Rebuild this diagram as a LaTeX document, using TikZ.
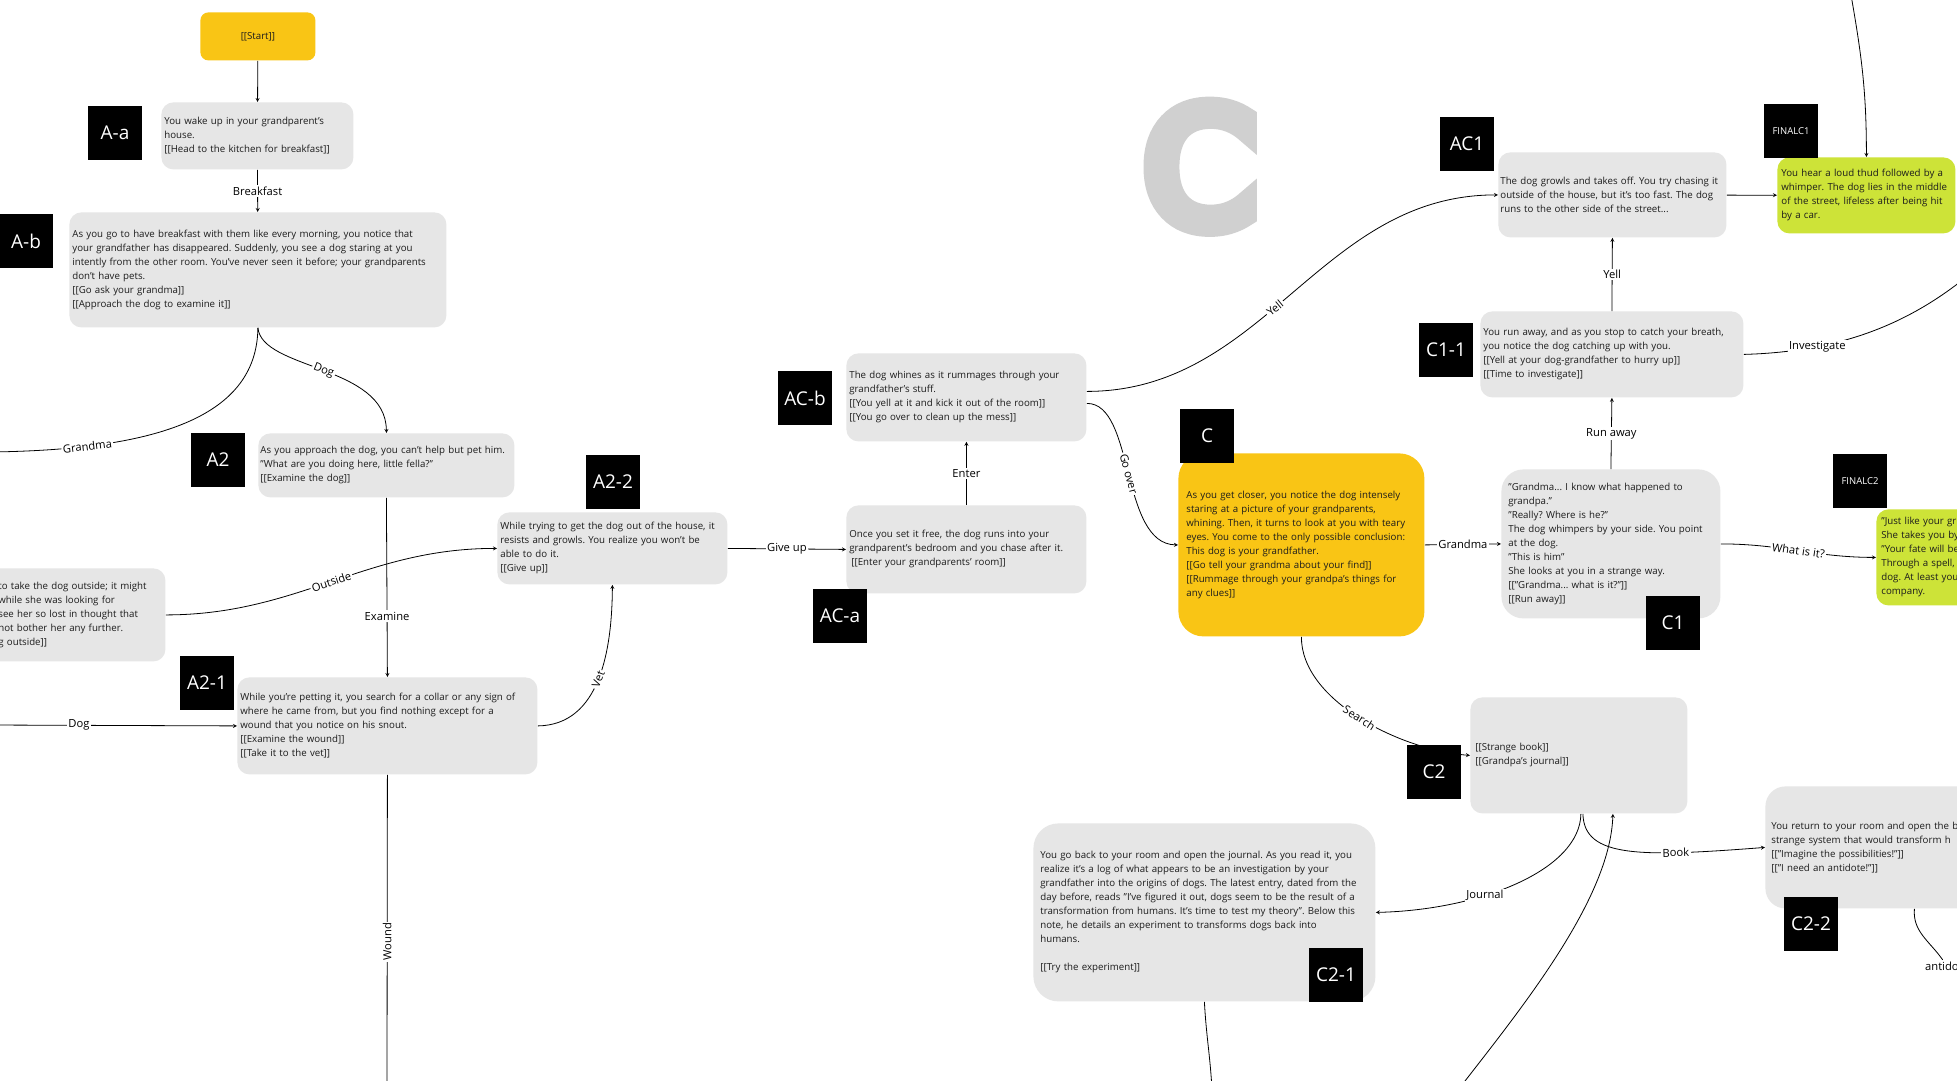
\documentclass[tikz,border=0pt]{standalone}
\usepackage{fontspec}
\setmainfont{Open Sans}
\newfontfamily\bigfont{DejaVu Sans}[FakeBold=12]

\definecolor{boxgray}{RGB}{230,230,230}
\definecolor{startyellow}{RGB}{249,197,21}
\definecolor{endgreen}{RGB}{205,227,56}
\definecolor{bigcgray}{RGB}{208,208,208}
\definecolor{passtext}{RGB}{28,28,28}

\newcommand\lnk[1]{[[#1]]}

\begin{document}
\begin{tikzpicture}[x=1pt, y=1pt, >=stealth, line width=0.8pt,
  passage/.style={anchor=north west, rectangle, rounded corners=12, fill=boxgray,
    text=passtext, align=left, inner xsep=3, inner ysep=0,
    font=\fontsize{9.7}{14}\selectfont\frenchspacing},
  tag/.style={fill=black, text=white, minimum size=54, inner sep=0,
    font=\fontsize{19}{19}\selectfont},
  small tag/.style={tag, font=\fontsize{9.5}{10}\selectfont},
  lbl/.style={fill=white, inner sep=1.5, text=black, font=\fontsize{11.2}{13}\selectfont}]

\path [use as bounding box, fill=white] (0,0) rectangle (1957,-1080);
\clip (0,0) rectangle (1957,-1080);

\node [passage, fill=startyellow, rounded corners=8, align=center, inner xsep=0,
  minimum width=115, minimum height=48] (start) at (200,-12) {\lnk{Start}};

\node [passage, minimum width=192, minimum height=67, text width=186] (aa) at (161,-102)
  {You wake up in your grandparent's\\house.\\\lnk{Head to the kitchen for breakfast}};

\node [passage, minimum width=377, minimum height=115, text width=371] (ab) at (69,-212)
  {As you go to have breakfast with them like every morning, you notice that\\
   your grandfather has disappeared. Suddenly, you see a dog staring at you\\
   intently from the other room. You've never seen it before; your grandparents\\
   don't have pets.\\\lnk{Go ask your grandma}\\\lnk{Approach the dog to examine it}};

\node [passage, inner xsep=2, minimum width=256, minimum height=64, text width=252] (a2) at (258,-433)
  {As you approach the dog, you can't help but pet him.\\
   "What are you doing here, little fella?"\\\lnk{Examine the dog}};

\node [passage, inner xsep=13, minimum height=93, text width=154] (left) at (-15,-568)
  {to take the dog outside; it might\\while she was looking for\\
   see her so lost in thought that\\not bother her any further.\\g outside]]};

\node [passage, minimum width=300, minimum height=97, text width=294] (a21) at (237,-677)
  {While you're petting it, you search for a collar or any sign of\\
   where he came from,  but you find nothing except for a\\
   wound that you notice on his snout.\\\lnk{Examine the wound}\\\lnk{Take it to the vet}};

\node [passage, minimum width=230, minimum height=72, text width=224] (a22) at (497,-512)
  {While trying to get the dog out of the house, it\\
   resists and growls. You realize you won't be\\able to do it.\\\lnk{Give up}};

\node [passage, minimum width=240, minimum height=88, text width=234] (aca) at (846,-505)
  {Once you set it free, the dog runs into your\\
   grandparent's bedroom and you chase after it.\\
   \hspace{2pt}\lnk{Enter your grandparents' room}};

\node [passage, minimum width=240, minimum height=88, text width=234] (acb) at (846,-353)
  {The dog whines as it rummages through your\\grandfather's stuff.\\
   \lnk{You yell at it and kick it out of the room}\\\lnk{You go over to clean up the mess}};

\node [passage, fill=startyellow, rounded corners=25, inner xsep=8, minimum width=246,
  minimum height=183, text width=230] (c) at (1178,-453)
  {As you get closer, you notice the dog intensely\\
   staring  at a picture of your grandparents,\\
   whining. Then, it turns to look at you with teary\\
   eyes. You come to the only possible conclusion:\\
   This dog is your grandfather.\\\lnk{Go tell your grandma about your find}\\
   \lnk{Rummage through your grandpa's things for\\any clues}};

\node [passage, rounded corners=22, inner xsep=7, minimum width=219, minimum height=149,
  text width=205] (c1) at (1501,-469)
  {"Grandma... I know what happened to\\grandpa."\\"Really? Where is he?"\\
   The dog whimpers by your side. You point\\at the dog.\\"This is him"\\
   She looks at you in a strange way.\\\lnk{"Grandma... what is it?"}\\\lnk{Run away}};

\node [passage, minimum width=263, minimum height=86, text width=257] (c11) at (1480,-311)
  {You run away, and as you stop to catch your breath,\\
   you notice the dog catching up with you.\\
   \lnk{Yell at your dog-grandfather to hurry up}\\\lnk{Time to investigate}};

\node [passage, inner xsep=2, minimum width=228, minimum height=85, text width=224] (ac1) at (1498,-152)
  {The dog growls and takes off. You try chasing it\\
   outside of the house, but it's too fast. The dog\\
   runs to the other side of the street...};

\node [passage, fill=endgreen, inner xsep=4, minimum width=178, minimum height=76,
  text width=170] (finalc1) at (1777,-157)
  {You hear a loud thud followed by a\\whimper. The dog lies in the middle\\
   of the street, lifeless after being hit\\by a car.};

\node [passage, fill=endgreen, inner xsep=5, minimum width=130, minimum height=96,
  text width=120] (finalc2) at (1876,-509)
  {"Just like your gr\\She takes you by\\"Your fate will be\\Through a spell,\\
   dog. At least you\\company.};

\node [passage, inner xsep=5, minimum width=217, minimum height=116, text width=207] (c2) at (1470,-697)
  {\lnk{Strange book}\\\lnk{Grandpa's journal}};

\node [passage, rounded corners=25, inner xsep=7, minimum width=342, minimum height=178,
  text width=328] (c21) at (1033,-823)
  {You go back to your room and open the journal. As you read it, you\\
   realize it's a log of what appears to be an investigation by your\\
   grandfather into the origins of dogs. The latest entry, dated from the\\
   day before, reads "I've figured it out, dogs seem to be the result of a\\
   transformation from humans. It's time to test my theory". Below this\\
   note, he details an experiment to transforms dogs back into\\
   humans.\\[14pt]\lnk{Try the experiment}};

\node [passage, rounded corners=20, inner xsep=6, minimum width=230, minimum height=122,
  text width=218] (c22) at (1765,-786)
  {You return to your room and open the b\\strange system that would transform h\\
   \lnk{"Imagine the possibilities!"}\\\lnk{"I need an antidote!"}};

\node [text=bigcgray, font=\bigfont\fontsize{160}{160}\selectfont, anchor=base,
  inner sep=0] (bigc) at (1200,-225) {C};

\draw [->] (start) -- (aa);
\draw [->] (aa) -- node [lbl] {Breakfast} (ab);

\coordinate (grandma-end) at (-10,-452);
\draw (ab.south) .. controls (257,-420) and (150,-450) .. (grandma-end)
  node [lbl, pos=0.78, sloped] {Grandma};
\draw [->] (ab.south) .. controls (262,-370) and (386,-365) .. (a2.north)
  node [lbl, pos=0.5, sloped] {Dog};

\draw [->] (a2.south) -- node [lbl, pos=0.66] {Examine} (a21.north);
\draw [->] (left.east) to [out=0, in=180] node [lbl, sloped] {Outside} (a22.west);

\coordinate (dog-start) at (-10,-725);
\draw [->] (dog-start) -- node [lbl, pos=0.36] {Dog} (a21.west);

\coordinate (wound-end) at (387,-1090);
\draw (a21.south) -- node [lbl, pos=0.53, rotate=90] {Wound} (wound-end);

\draw [->] (a21.east) .. controls (600,-725) and (612,-650) .. (a22.south)
  node [lbl, pos=0.5, sloped] {Vet};
\draw [->] (a22.east) -- node [lbl] {Give up} (aca.west);
\draw [->] (aca.north) -- node [lbl] {Enter} (acb.south);

\draw [->] ([yshift=6]acb.east) to [out=0, in=180] node [lbl, pos=0.45, sloped] {Yell} (ac1.west);
\draw [->] ([yshift=-6]acb.east) .. controls (1135,-403) and (1120,-544) .. (c.west)
  node [lbl, pos=0.5, sloped] {Go over};

\draw [->] (c.east) -- node [lbl] {Grandma} (c1.west);
\draw [->] (c1.north) -- node [lbl] {Run away} (c11.south);
\draw [->] (c11.north) -- node [lbl] {Yell} (ac1.south);
\draw [->] (ac1) -- (finalc1);

\coordinate (top-in) at (1851,5);
\draw [->] (top-in) to [out=-80, in=90] (finalc1.north);

\coordinate (investigate-end) at (1965,-278);
\draw (c11.east) .. controls (1830,-352) and (1900,-330) .. (investigate-end)
  node [lbl, pos=0.3] {Investigate};

\draw [->] (c1.east) to [out=0, in=180] node [lbl, sloped] {What is it?} (finalc2.west);

\draw [->] (c.south) .. controls (1301,-700) and (1400,-750) .. (c2.west)
  node [lbl, pos=0.5, sloped] {Search};
\draw [->] ([xshift=2]c2.south) .. controls (1580,-870) and (1480,-910) .. (c21.east)
  node [lbl, pos=0.63] {Journal};
\draw [->] ([xshift=4]c2.south) .. controls (1584,-858) and (1640,-857) .. (c22.west)
  node [lbl, pos=0.72, sloped] {Book};

\coordinate (bottom-in) at (1458,-1090);
\draw [->] (bottom-in) .. controls (1520,-1010) and (1610,-900) .. ([xshift=34]c2.south);

\coordinate (c21-out) at (1212,-1090);
\draw (c21.south) to [out=-87, in=93] (c21-out);

\node [lbl] (antidote) at (1947,-966) {antidote};
\draw ([xshift=34]c22.south) to [out=-95, in=125] (antidote);

\foreach \n/\lab/\x/\y in {aa/A-a/115/133, ab/A-b/26/241, a2/A2/218/460, a21/A2-1/207/683,
    a22/A2-2/613/482, aca/AC-a/840/616, acb/AC-b/805/398, c/C/1207/436, c1/C1/1673/623,
    c11/C1-1/1446/350, ac1/AC1/1467/144, c2/C2/1434/772, c21/C2-1/1336/975, c22/C2-2/1811/924}
  \node [tag] (tag-\n) at (\x,-\y) {\lab};

\foreach \n/\x/\y in {1/1791/131, 2/1860/481}
  \node [small tag] (tag-final\n) at (\x,-\y) {FINALC\n};

\end{tikzpicture}
\end{document}
